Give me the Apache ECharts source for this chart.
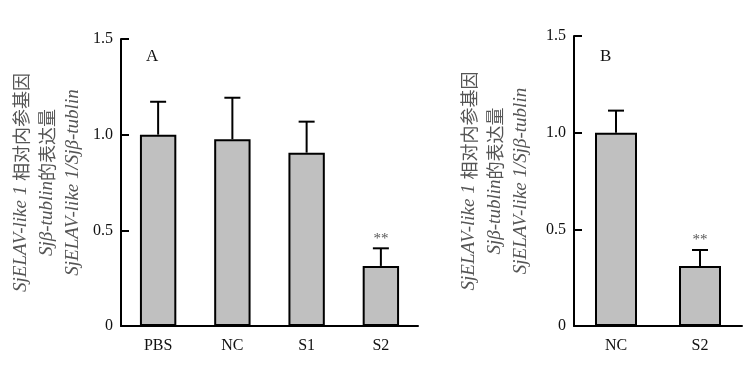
<!DOCTYPE html>
<html><head><meta charset="utf-8">
<script src="https://cdn.jsdelivr.net/npm/echarts@6/dist/echarts.min.js"></script>
<style>html,body{margin:0;padding:0;background:#fff}#c{width:749px;height:367px}</style>
</head><body><div id="c"></div>
<script>
var catsA = ['PBS', 'NC', 'S1', 'S2'];
var meanA = [1.0, 0.976, 0.906, 0.314];
var sdA = [0.172, 0.217, 0.162, 0.092];
var sigA = ['', '', '', '**'];
var catsB = ['NC', 'S2'];
var meanB = [1.0, 0.31];
var sdB = [0.114, 0.083];
var sigB = ['', '**'];
var yTicks = [0, 0.5, 1.0, 1.5];
var panelLabels = ['A', 'B'];

var FONT = '"Liberation Serif","DejaVu Serif","Noto Sans CJK SC",serif';
var chart = echarts.init(document.getElementById('c'), null, {renderer: 'canvas'});

function yName() {
  return '{i|SjELAV-like 1 }{n|相对内参基因}\n{i|Sjβ-tublin}{n|的表达量}\n{i|SjELAV-like 1/Sjβ-tublin}';
}
var nameRich = {
  i: {fontStyle: 'italic', fontFamily: FONT, fontSize: 19, color: '#555', lineHeight: 26},
  n: {fontFamily: 'Noto Sans CJK SC', fontSize: 18, color: '#555', lineHeight: 26}
};

function xAxis(idx, cats) {
  return {
    type: 'category', gridIndex: idx, data: cats, boundaryGap: true,
    axisLine: {lineStyle: {color: '#000', width: 2}},
    axisTick: {inside: true, length: 7, lineStyle: {color: '#000', width: 2}},
    axisLabel: {color: '#111', fontFamily: FONT, fontSize: 16, margin: 12}
  };
}
function yAxis(idx, gap) {
  return {
    type: 'value', gridIndex: idx, min: 0, max: 1.5, interval: 0.5,
    axisLine: {show: true, lineStyle: {color: '#000', width: 2}},
    axisTick: {show: true, inside: true, length: 8, lineStyle: {color: '#000', width: 2}},
    splitLine: {show: false},
    axisLabel: {color: '#111', fontFamily: FONT, fontSize: 16, margin: 8,
      formatter: function (v) { return yTicks.indexOf(v) >= 0 ? (v === 0 ? '0' : v.toFixed(1)) : ''; }},
    name: yName(), nameLocation: 'middle', nameRotate: 90, nameGap: gap,
    nameTextStyle: {rich: nameRich, align: 'center'}
  };
}

function errSeries(idx, means, sds, sigs) {
  return {
    type: 'custom', xAxisIndex: idx, yAxisIndex: idx, z: 5,
    data: means.map(function (m, i) { return [i, m, m + sds[i]]; }),
    renderItem: function (params, api) {
      var i = api.value(0);
      var p0 = api.coord([i, api.value(1)]);
      var p1 = api.coord([i, api.value(2)]);
      var hw = 8;
      var ls = {stroke: '#000', lineWidth: 2};
      var children = [
        {type: 'line', shape: {x1: p0[0], y1: p0[1], x2: p1[0], y2: p1[1]}, style: ls},
        {type: 'line', shape: {x1: p1[0] - hw, y1: p1[1], x2: p1[0] + hw, y2: p1[1]}, style: ls}
      ];
      var s = sigs[params.dataIndex];
      if (s) {
        children.push({type: 'text', x: p1[0], y: p1[1] - 2,
          style: {text: s, fill: '#555', font: '15px ' + FONT, align: 'center', verticalAlign: 'bottom'}});
      }
      return {type: 'group', children: children};
    }
  };
}

chart.setOption({
  animation: false,
  title: [
    {text: panelLabels[0], left: 141, top: 43, textStyle: {fontFamily: FONT, fontSize: 17, fontWeight: 'normal', color: '#111'}},
    {text: panelLabels[1], left: 595, top: 43, textStyle: {fontFamily: FONT, fontSize: 17, fontWeight: 'normal', color: '#111'}}
  ],
  grid: [
    {left: 121, right: 331, top: 39, bottom: 41, containLabel: false, outerBoundsMode: 'none'},
    {left: 574, right: 7, top: 36, bottom: 41, containLabel: false, outerBoundsMode: 'none'}
  ],
  xAxis: [xAxis(0, catsA), xAxis(1, catsB)],
  yAxis: [yAxis(0, 35), yAxis(1, 40)],
  series: [
    {type: 'bar', xAxisIndex: 0, yAxisIndex: 0, data: meanA, barWidth: '49%',
      itemStyle: {color: '#c0c0c0', borderColor: '#000', borderWidth: 2}},
    errSeries(0, meanA, sdA, sigA),
    {type: 'bar', xAxisIndex: 1, yAxisIndex: 1, data: meanB, barWidth: '50%',
      itemStyle: {color: '#c0c0c0', borderColor: '#000', borderWidth: 2}},
    errSeries(1, meanB, sdB, sigB)
  ]
});
</script></body></html>
